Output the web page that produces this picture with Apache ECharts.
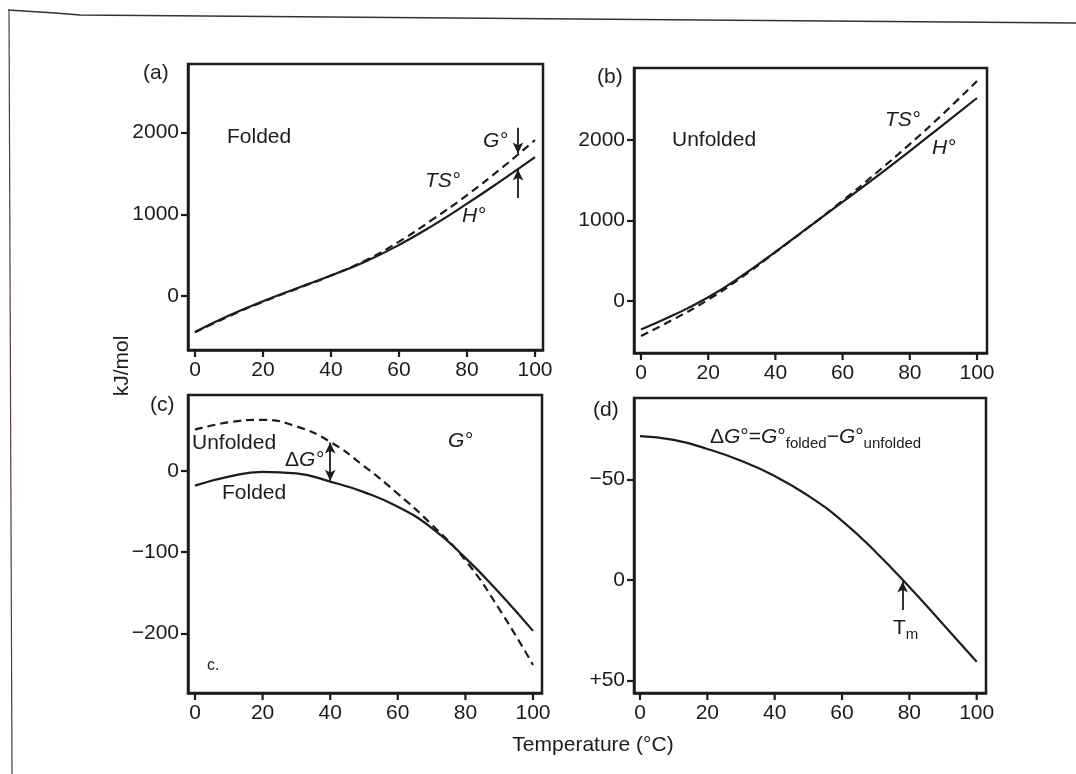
<!DOCTYPE html>
<html>
<head>
<meta charset="utf-8">
<script src="https://cdn.jsdelivr.net/npm/echarts@6/dist/echarts.min.js"></script>
<style>
  html, body { margin: 0; padding: 0; background: #fff; }
  #chart { width: 1076px; height: 774px; }
</style>
</head>
<body>
<div id="chart"></div>
<script>
// temperatures (°C) the curves are sampled at
const temps = [0, 10, 20, 30, 40, 50, 60, 70, 80, 90, 100];

// (a) folded: H° (solid) and TS° (dashed), kJ/mol
const hFolded = [-440, -240, -65, 95, 250, 420, 625, 865, 1130, 1410, 1700];
const tsFolded = [-445, -248, -70, 90, 250, 432, 665, 940, 1235, 1560, 1910];

// (b) unfolded: H° (solid) and TS° (dashed)
const hUnfolded = [-355, -170, 45, 310, 610, 920, 1230, 1543, 1863, 2193, 2523];
const tsUnfolded = [-437, -222, 15, 295, 605, 920, 1245, 1590, 1950, 2330, 2735];

// (c) G° of folded (solid) and unfolded (dashed)
const gFolded = [-18, -7, -1, -3, -13, -26, -44, -70, -107, -150, -197];
const gUnfolded = [51, 60, 63, 55, 36, 6, -28, -66, -110, -170, -239];

// (d) ΔG° = G°folded − G°unfolded
const dG = [-71.7, -69.8, -65.3, -59.4, -51.8, -42, -29.5, -14, 3.5, 22, 40.7];

// tick values
const tempTicks = [0, 20, 40, 60, 80, 100];
const energyTicks = [0, 1000, 2000];
const gTicks = [0, -100, -200];
const dgTicks = [-50, 0, 50];

// annotation arrows, in data units [x, yFrom, yTo]
const arrowG = [95, 2060, 1745];
const arrowH = [95, 1200, 1550];
const arrowDG = [40, -12, 35];
const arrowTm = [78, 15, 0.8];

const INK = '#1c1c1c';
const FONT = 'Liberation Sans';

const pairs = (ys) => temps.map((t, i) => [t, ys[i]]);
const minus = (v) => (v < 0 ? '\u2212' + Math.abs(v) : String(v));

// grid boxes (pixels) and axis ranges
const grids = [
  { left: 188, top: 64, width: 355, height: 286 },
  { left: 634, top: 68, width: 353, height: 285 },
  { left: 188, top: 395, width: 354, height: 298 },
  { left: 634, top: 398, width: 352, height: 295 }
];
const xRange = [[-2.06, 102.35], [-2.08, 102.97], [-2.07, 102.66], [-1.78, 102.76]];
const yRange = [[-661, 2840], [-648, 2896], [-273.6, 93.7], [-90.7, 56.3]];

const edge = { show: true, onZero: false, lineStyle: { color: INK, width: 2.5 } };

function xAxis(i) {
  return {
    type: 'value', gridIndex: i, position: 'bottom', min: xRange[i][0], max: xRange[i][1],
    axisLine: edge, splitLine: { show: false },
    axisTick: { show: false },
    axisLabel: { customValues: tempTicks, fontSize: 21, fontFamily: FONT, color: INK, margin: 10 }
  };
}

function yAxis(i, ticks, fmt, inverse) {
  return {
    type: 'value', gridIndex: i, position: 'left', min: yRange[i][0], max: yRange[i][1], inverse: !!inverse,
    axisLine: edge, splitLine: { show: false },
    axisTick: { show: true, inside: false, length: 7, lineStyle: { color: INK, width: 2.2 }, customValues: ticks },
    axisLabel: { customValues: ticks, formatter: fmt, fontSize: 21, fontFamily: FONT, color: INK, margin: 9 }
  };
}

function curve(i, ys, dashed, arrows) {
  const s = {
    type: 'line', xAxisIndex: i, yAxisIndex: i, data: pairs(ys),
    smooth: 0.5, showSymbol: false, silent: true,
    lineStyle: { color: INK, width: 2.2, type: dashed ? [8, 5] : 'solid' }
  };
  if (arrows) {
    s.markLine = {
      silent: true, symbolSize: [8, 11], animation: false,
      label: { show: false },
      lineStyle: { color: INK, width: 1.8, type: 'solid' },
      data: arrows
    };
  }
  return s;
}

function arrow(a, both) {
  return [
    { coord: [a[0], a[1]], symbol: both ? 'arrow' : 'none' },
    { coord: [a[0], a[2]], symbol: 'arrow' }
  ];
}

function txt(x, y, text, extra) {
  return {
    type: 'text', x: x, y: y, silent: true,
    style: Object.assign({
      text: text, fill: INK, fontFamily: FONT, fontSize: 21,
      textAlign: 'left', textVerticalAlign: 'middle'
    }, extra || {})
  };
}

const rich = {
  n: { fontFamily: FONT, fontSize: 21, color: INK },
  i: { fontFamily: FONT, fontSize: 21, fontStyle: 'italic', color: INK },
  s: { fontFamily: FONT, fontSize: 15, color: INK, padding: [14, 0, 0, 0] }
};

const chart = echarts.init(document.getElementById('chart'), null, { renderer: 'canvas' });

const graphics = [
  // scanned page edge
  { type: 'polyline', silent: true, shape: { points: [[8, 10], [55, 13], [80, 15], [1076, 23]] }, style: { stroke: '#333', lineWidth: 1.5, fill: null } },
  { type: 'polyline', silent: true, shape: { points: [[9, 10], [12, 774]] }, style: { stroke: '#5a3a3a', lineWidth: 1.2, fill: null } },

  // shared axis titles
  { type: 'text', x: 122, y: 366, rotation: Math.PI / 2, silent: true,
    style: { text: 'kJ/mol', fill: INK, fontFamily: FONT, fontSize: 21, textAlign: 'center', textVerticalAlign: 'middle' } },
  txt(593, 745, 'Temperature (°C)', { textAlign: 'center' }),

  // (a)
  txt(143, 73, '(a)'),
  txt(227, 137, 'Folded'),
  txt(425, 181, 'TS°', { fontStyle: 'italic' }),
  txt(462, 216, 'H°', { fontStyle: 'italic' }),
  txt(483, 141, 'G°', { fontStyle: 'italic' }),

  // (b)
  txt(597, 77, '(b)'),
  txt(672, 140, 'Unfolded'),
  txt(885, 120, 'TS°', { fontStyle: 'italic' }),
  txt(932, 148, 'H°', { fontStyle: 'italic' }),

  // (c)
  txt(150, 405, '(c)'),
  txt(192, 443, 'Unfolded'),
  txt(285, 460, '{n|Δ}{i|G°}', { rich: rich }),
  txt(222, 493, 'Folded'),
  txt(448, 441, 'G°', { fontStyle: 'italic' }),
  txt(207, 666, 'c.', { fontSize: 16 }),

  // (d)
  txt(593, 410, '(d)'),
  txt(710, 437, '{n|Δ}{i|G}{n|°=}{i|G}{n|°}{s|folded}{n|\u2212}{i|G}{n|°}{s|unfolded}', { rich: rich }),
  txt(893, 628, '{n|T}{s|m}', { rich: rich })
];

chart.setOption({
  backgroundColor: '#fff',
  animation: false,
  grid: grids.map((g) => Object.assign({ show: true, borderColor: INK, borderWidth: 2.5, backgroundColor: 'transparent' }, g)),
  xAxis: [xAxis(0), xAxis(1), xAxis(2), xAxis(3)],
  yAxis: [
    yAxis(0, energyTicks, minus),
    yAxis(1, energyTicks, minus),
    yAxis(2, gTicks, minus),
    yAxis(3, dgTicks, (v) => (v > 0 ? '+' + v : minus(v)), true)
  ],
  series: [
    curve(0, hFolded, false, [arrow(arrowH)]),
    curve(0, tsFolded, true, [arrow(arrowG)]),
    curve(1, hUnfolded, false),
    curve(1, tsUnfolded, true),
    curve(2, gFolded, false, [arrow(arrowDG, true)]),
    curve(2, gUnfolded, true),
    curve(3, dG, false, [arrow(arrowTm)])
  ],
  graphic: graphics
});

// x ticks hang below each box; place them through each grid's own x scale
grids.forEach((g, i) => {
  const bottom = g.top + g.height;
  tempTicks.forEach((t) => {
    const px = chart.convertToPixel({ xAxisIndex: i }, t);
    graphics.push({
      type: 'line', silent: true,
      shape: { x1: px, y1: bottom, x2: px, y2: bottom + 7 },
      style: { stroke: INK, lineWidth: 2.2 }
    });
  });
});
chart.setOption({ graphic: graphics });
</script>
</body>
</html>
